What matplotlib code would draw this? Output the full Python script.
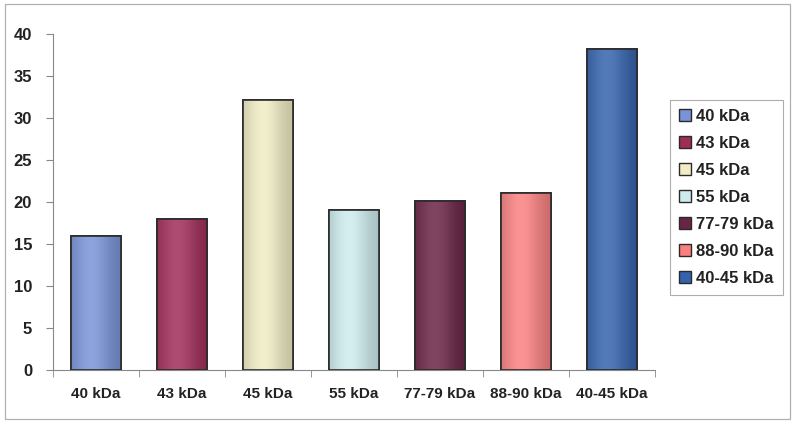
import numpy as np
import matplotlib
matplotlib.use("Agg")
import matplotlib.pyplot as plt
from matplotlib.colors import to_rgb
from matplotlib.patches import Patch, Rectangle

# data
categories = ["40 kDa", "43 kDa", "45 kDa", "55 kDa", "77-79 kDa", "88-90 kDa", "40-45 kDa"]
values = [16, 18, 32.1, 19.1, 20.1, 21.1, 38.2]
colors = ["#7893d8", "#a02d58", "#f0ecc4", "#cdecee", "#6a2445", "#fa8080", "#3463ad"]
yticks = [0, 5, 10, 15, 20, 25, 30, 35, 40]

plt.rcParams['font.family'] = ['Liberation Sans', 'DejaVu Sans']
plt.rcParams['font.weight'] = 'bold'

fig = plt.figure(figsize=(7.93, 4.22), dpi=100)
fig.patch.set_facecolor("white")
# outer chart frame
fig.add_artist(Rectangle((0.006, 0.008), 0.99, 0.982, transform=fig.transFigure,
                         fill=False, edgecolor="#b0b0b0", linewidth=0.9))

ax = fig.add_axes([53/793, 52/422, 602/793, 336/422])
x = np.arange(len(categories))
bw = 0.57

def shade(c):
    # cylinder-like horizontal gradient, kept subtle
    t = np.linspace(0, 1, 64)
    k = np.exp(-((t - 0.4) / 0.4) ** 2)
    base = np.array(to_rgb(c))
    dark = base * 0.8
    light = base + (1 - base) * 0.15
    g = dark[None, :] * (1 - k[:, None]) + light[None, :] * k[:, None]
    return g[None, :, :]

bars = ax.bar(x, values, width=bw, color=colors, edgecolor="#2a2a2a", linewidth=1.2, zorder=2)
for b, c in zip(bars, colors):
    im = ax.imshow(shade(c), extent=[b.get_x(), b.get_x() + b.get_width(), 0, b.get_height()],
                   aspect="auto", zorder=2.5, interpolation="bilinear")
    im.set_clip_path(b)
    ax.add_patch(Rectangle((b.get_x(), 0), b.get_width(), b.get_height(), fill=False,
                           edgecolor="#2a2a2a", linewidth=1.2, zorder=3))

ax.set_xlim(-0.5, len(categories) - 0.5)
ax.set_ylim(0, 40)
ax.set_yticks(yticks)
ax.set_yticklabels([str(v) for v in yticks], fontsize=12, fontweight="bold", color="#222222")
ax.set_xticks(x)
ax.set_xticklabels(categories, fontsize=11, fontweight="bold", color="#222222")
ax.set_xticks(np.arange(len(categories) + 1) - 0.5, minor=True)
ax.tick_params(axis="x", which="major", length=0, pad=12)
ax.tick_params(axis="x", which="minor", length=5, color="#888888", direction="out")
ax.tick_params(axis="y", length=5, color="#888888", direction="out", pad=10)
for s in ["top", "right"]:
    ax.spines[s].set_visible(False)
for s in ["left", "bottom"]:
    ax.spines[s].set_color("#888888")
    ax.spines[s].set_linewidth(0.8)

handles = [Patch(facecolor=c, edgecolor="#2a2a2a", linewidth=1.0) for c in colors]
leg = fig.legend(handles, categories, loc="upper left", bbox_to_anchor=(670/793, 1 - 100/422),
                 frameon=True, fancybox=False, prop={'weight': 'bold', 'size': 12},
                 handlelength=0.7, handleheight=0.7, handletextpad=0.3, labelspacing=0.72,
                 borderpad=0.55, borderaxespad=0)
leg.get_frame().set_edgecolor("#999999")
leg.get_frame().set_linewidth(0.8)
for t in leg.get_texts():
    t.set_color("#222222")

fig.savefig("out.png", dpi=100)
